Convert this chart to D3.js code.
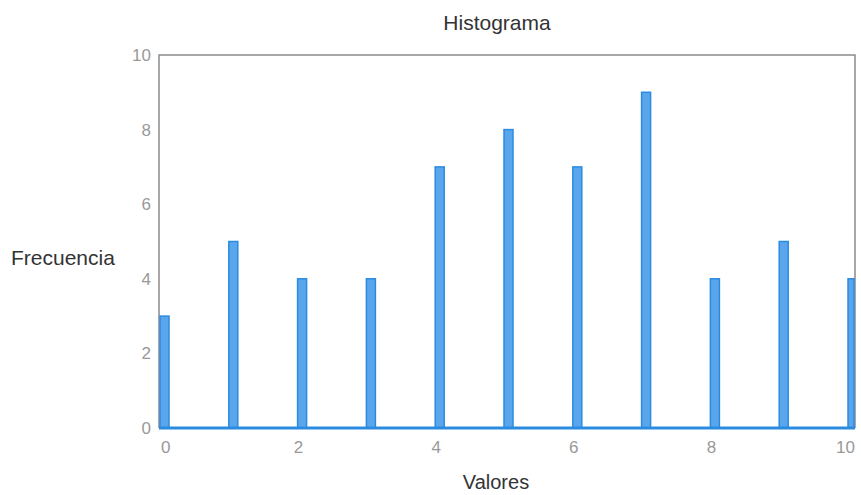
<!DOCTYPE html>
<html>
<head>
<meta charset="utf-8">
<script src="https://cdn.jsdelivr.net/npm/d3@7"></script>
<style>
  body { margin: 0; background: #fff; }
  text { font-family: "Liberation Sans", Arial, sans-serif; }
</style>
</head>
<body>
<div id="chart"></div>
<script>
// histogram data
const valores = [0, 1, 2, 3, 4, 5, 6, 7, 8, 9, 10];
const frecuencias = [3, 5, 4, 4, 7, 8, 7, 9, 4, 5, 4];
const yTicks = [0, 2, 4, 6, 8, 10];
const xTicks = [0, 2, 4, 6, 8, 10];

const W = 861, H = 495;
const m = { left: 159, right: 6, top: 55, bottom: 67 };

const svg = d3.select("#chart").append("svg")
  .attr("width", W).attr("height", H);

const x = d3.scaleLinear().domain([0, 10]).range([m.left, W - m.right - 8]);
const y = d3.scaleLinear().domain([0, 10]).range([H - m.bottom, m.top]);

// frame (top, left, right)
const x0 = m.left, x1 = W - m.right;
svg.append("path")
  .attr("d", `M${x0},${y(0)}V${m.top}H${x1}V${y(0)}`)
  .attr("fill", "none")
  .attr("stroke", "#8a8a8a")
  .attr("stroke-width", 1.5);

// bars
const barW = 9;
svg.append("g").selectAll("rect")
  .data(valores)
  .enter().append("rect")
  .attr("x", d => x(d) + 1)
  .attr("y", (d, i) => y(frecuencias[i]))
  .attr("width", d => Math.min(barW, x1 - x(d) - 2))
  .attr("height", (d, i) => y(0) - y(frecuencias[i]))
  .attr("fill", "#5aa6ec")
  .attr("stroke", "#2b8be0")
  .attr("stroke-width", 1.5);

// baseline
svg.append("line")
  .attr("x1", x0).attr("x2", x1)
  .attr("y1", y(0)).attr("y2", y(0))
  .attr("stroke", "#2b8be0")
  .attr("stroke-width", 3);

// y tick labels
svg.append("g").selectAll("text")
  .data(yTicks)
  .enter().append("text")
  .attr("x", m.left - 8)
  .attr("y", d => y(d) + 6)
  .attr("text-anchor", "end")
  .attr("fill", "#999")
  .style("font-size", "17px")
  .text(d => d);

// x tick labels
svg.append("g").selectAll("text")
  .data(xTicks)
  .enter().append("text")
  .attr("x", d => d === 10 ? x1 : x(d) + 2)
  .attr("y", y(0) + 25)
  .attr("text-anchor", d => d === 0 ? "start" : d === 10 ? "end" : "middle")
  .attr("fill", "#999")
  .style("font-size", "17px")
  .text(d => d);

// titles
svg.append("text")
  .attr("x", 497).attr("y", 30)
  .attr("text-anchor", "middle")
  .attr("fill", "#333")
  .style("font-size", "21px")
  .text("Histograma");

svg.append("text")
  .attr("x", 11).attr("y", 265)
  .attr("fill", "#333")
  .style("font-size", "21px")
  .text("Frecuencia");

svg.append("text")
  .attr("x", 496).attr("y", 489)
  .attr("text-anchor", "middle")
  .attr("fill", "#333")
  .style("font-size", "20px")
  .text("Valores");
</script>
</body>
</html>
